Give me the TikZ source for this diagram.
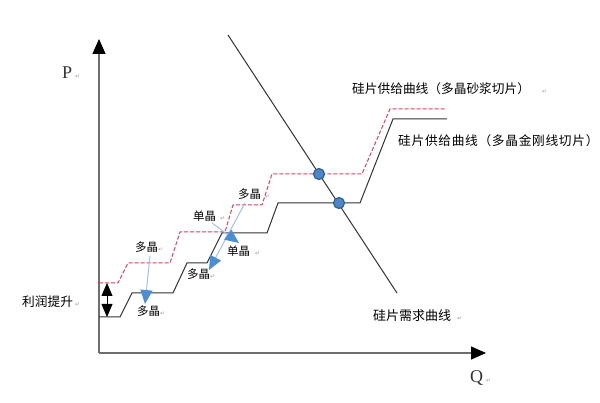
\documentclass[tikz,border=0pt]{standalone}
\usepackage{fontspec}
\setmainfont{Liberation Serif}
\newfontfamily\cjk{Noto Sans CJK SC}
\newfontfamily\symfont{DejaVu Sans}
\usetikzlibrary{arrows.meta}
\definecolor{axisgray}{HTML}{6E6E6E}
\definecolor{curveblk}{HTML}{333333}
\definecolor{dashred}{HTML}{E0405E}
\definecolor{lineblue}{HTML}{9DC3E6}
\definecolor{headblue}{HTML}{4A8FD6}
\definecolor{dotfill}{HTML}{4A86C8}
\definecolor{dotedge}{HTML}{2E6096}
\definecolor{markgray}{HTML}{A0A0A0}
\newcommand{\parmark}{{\symfont\fontsize{6}{6}\selectfont\textcolor{markgray}{↵}}}
\tikzset{
  axisline/.style={draw=axisgray,line width=1.2pt,-{Triangle[length=15pt,width=13pt,black]}},
  supplyblk/.style={draw=curveblk,line width=1pt},
  supplyred/.style={draw=dashred,line width=1pt,dash pattern=on 4pt off 2pt},
  demand/.style={draw=curveblk,line width=1pt},
  dot/.style={circle,minimum size=11pt,inner sep=0pt,fill=dotfill,draw=dotedge,line width=1.2pt},
  bluearrow/.style={draw=lineblue,line width=1pt,-{Triangle[length=14pt,width=12pt,headblue]}},
  smalllab/.style={anchor=west,inner sep=0pt,font=\cjk\fontsize{11.5}{12}\selectfont},
  biglab/.style={anchor=west,inner sep=0pt,font=\cjk\fontsize{12.7}{14}\selectfont},
  axlab/.style={anchor=west,inner sep=0pt,font=\fontsize{18}{20}\selectfont,text=black!80},
  gapbar/.style={draw=black,line width=0.8pt,{Triangle[length=13pt,width=11pt,black]}-{Triangle[length=13pt,width=11pt,black]}}
}
\begin{document}
\begin{tikzpicture}[x=1pt,y=-1pt]
\path[use as bounding box,fill=white] (0,0) rectangle (600,403);

% axes
\coordinate (O) at (99,353);
\coordinate (Ytip) at (99,39);
\coordinate (Xtip) at (486,353);
\draw[axisline] (O) -- (Ytip);
\draw[axisline] (O) -- (Xtip);
\node[axlab] (P) at (62,73) {P\hspace{3pt}\parmark};
\node[axlab] (Q) at (470,378) {Q\hspace{3pt}\parmark};

% supply curve: diamond wire (solid)
\draw[supplyblk] (99,317) -- (120,317) -- (132,293) -- (173,293) -- (187,263) -- (207,263)
  -- (222,233) -- (267,233) -- (278,203) -- (360,203) -- (393,119) -- (447,119);
% supply curve: slurry (dashed red)
\draw[supplyred] (99,283) -- (118,283) -- (128,263) -- (170,263) -- (180,232) -- (225,232)
  -- (233,205) -- (262,205) -- (272,174) -- (362,174) -- (390,109) -- (445,109);
% demand
\coordinate (D1) at (228,35);
\coordinate (D2) at (397,293);
\draw[demand] (D1) -- (D2);
\node[dot] (E1) at (319,174) {};
\node[dot] (E2) at (339,203) {};

% profit gap
\coordinate (G1) at (107,283);
\coordinate (G2) at (107,317);
\draw[gapbar] (G1) -- (G2);
\node[anchor=west,inner sep=0pt,font=\cjk\fontsize{12.7}{14}\selectfont] (LR) at (22,302) {利润提升\hspace{2pt}\parmark};

% labels
\node[biglab] (LSJ) at (352,89) {硅片供给曲线（多晶砂浆切片）\hspace{12pt}\parmark};
\node[biglab] (LJG) at (398,141) {硅\kern0.7pt 片\kern0.7pt 供\kern0.7pt 给\kern0.7pt 曲\kern0.7pt 线\kern0.7pt （\kern0.7pt 多\kern0.7pt 晶\kern0.7pt 金\kern0.7pt 刚\kern0.7pt 线\kern0.7pt 切\kern0.7pt 片\kern0.7pt ）};
\node[anchor=west,inner sep=0pt,font=\cjk\fontsize{13}{14}\selectfont] (LDM) at (373,316) {硅片需求曲线\hspace{6pt}\parmark};

\node[smalllab] (d1) at (135,247) {多晶\parmark};
\node[smalllab] (d2) at (137,311) {多晶\parmark};
\node[smalllab] (d3) at (187,274) {多晶\parmark};
\node[smalllab] (s1) at (227,251) {单晶\hspace{5pt}\parmark};
\node[smalllab] (s2) at (193,216) {单晶\hspace{4pt}\parmark};
\node[smalllab] (d4) at (238,194) {多晶\hspace{4pt}\parmark};

% blue arrows
\coordinate (a1s) at (150,256);
\coordinate (a1e) at (145,304);
\coordinate (a2s) at (245,203);
\coordinate (a2e) at (209,270);
\coordinate (a3s) at (212,223);
\coordinate (a3e) at (239,243);
\draw[bluearrow] (a1s) -- (a1e);
\draw[bluearrow] (a2s) -- (a2e);
\draw[bluearrow] (a3s) -- (a3e);
\end{tikzpicture}
\end{document}
